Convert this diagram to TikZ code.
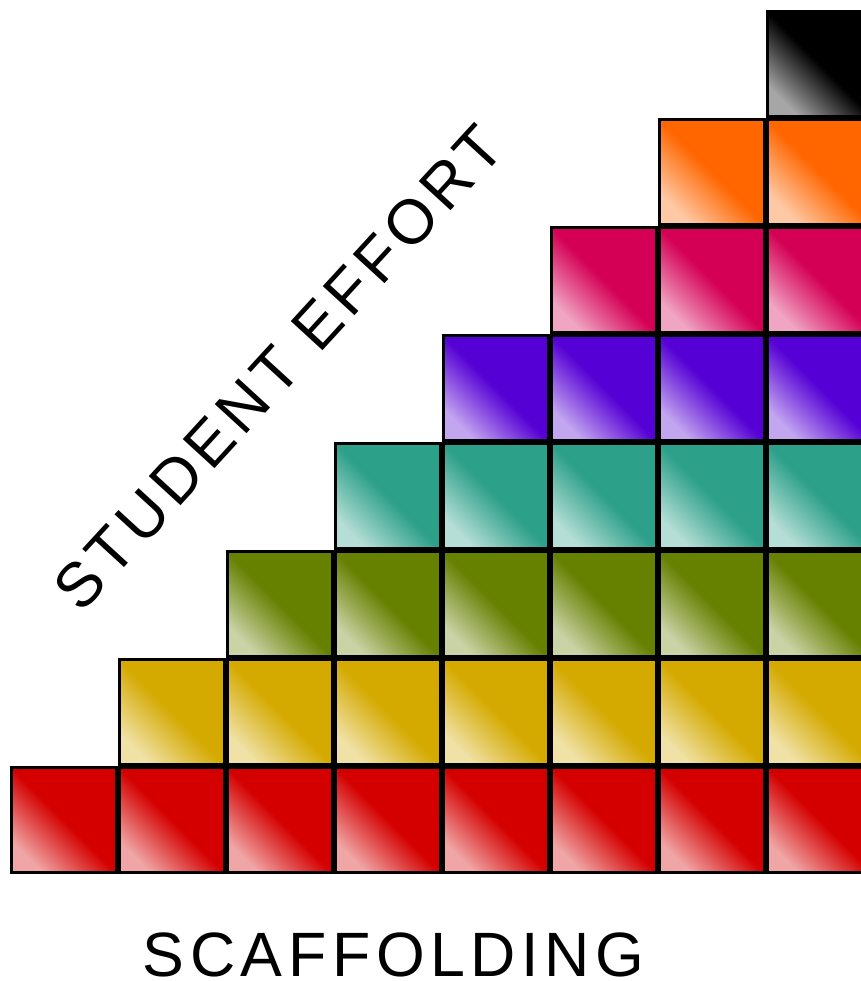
\documentclass[tikz,border=0pt]{standalone}
\usepackage{fontspec}
\setmainfont{Liberation Sans}
\newfontfamily\labelfont[LetterSpace=9]{Liberation Sans}
\usepackage{tikz}
\usetikzlibrary{positioning}
\definecolor{rowred}{HTML}{D40000}
\definecolor{rowgold}{HTML}{D4AA00}
\definecolor{rowolive}{HTML}{668000}
\definecolor{rowteal}{HTML}{2CA089}
\definecolor{rowviolet}{HTML}{5500D4}
\definecolor{rowmagenta}{HTML}{D40055}
\definecolor{roworange}{HTML}{FF6600}
\definecolor{rowblack}{HTML}{000000}

\begin{document}
\begin{tikzpicture}[
    block/.style={draw=black, line width=0.8pt},
    label/.style={font=\labelfont\fontsize{16.5pt}{20pt}\selectfont, inner sep=0pt}
  ]
    % Frame: the right column is cut off
    \useasboundingbox (-0.0926,-0.9907) rectangle (7.8796,8.0926);
    \clip (-0.0926,-0.9907) rectangle (7.8796,8.0926);

    % Staircase of blocks, one colour per row
    \foreach \col [count=\row from 0] in
      {rowred,rowgold,rowolive,rowteal,rowviolet,rowmagenta,roworange,rowblack}{
      \foreach \k in {\row,...,7}{
        \draw[block, bottom color=\col!35!white, top color=\col, middle color=\col,
              shading angle=-45]
          (\k+0.012,\row+0.012) rectangle (\k+0.988,\row+0.988);
      }
    }

    % Labels
    \node[label, rotate=47.5] (effort) at (2.485,4.688) {STUDENT EFFORT};
    \node[label] (scaffold) at (3.551,-0.75) {SCAFFOLDING};
  \end{tikzpicture}
\end{document}
